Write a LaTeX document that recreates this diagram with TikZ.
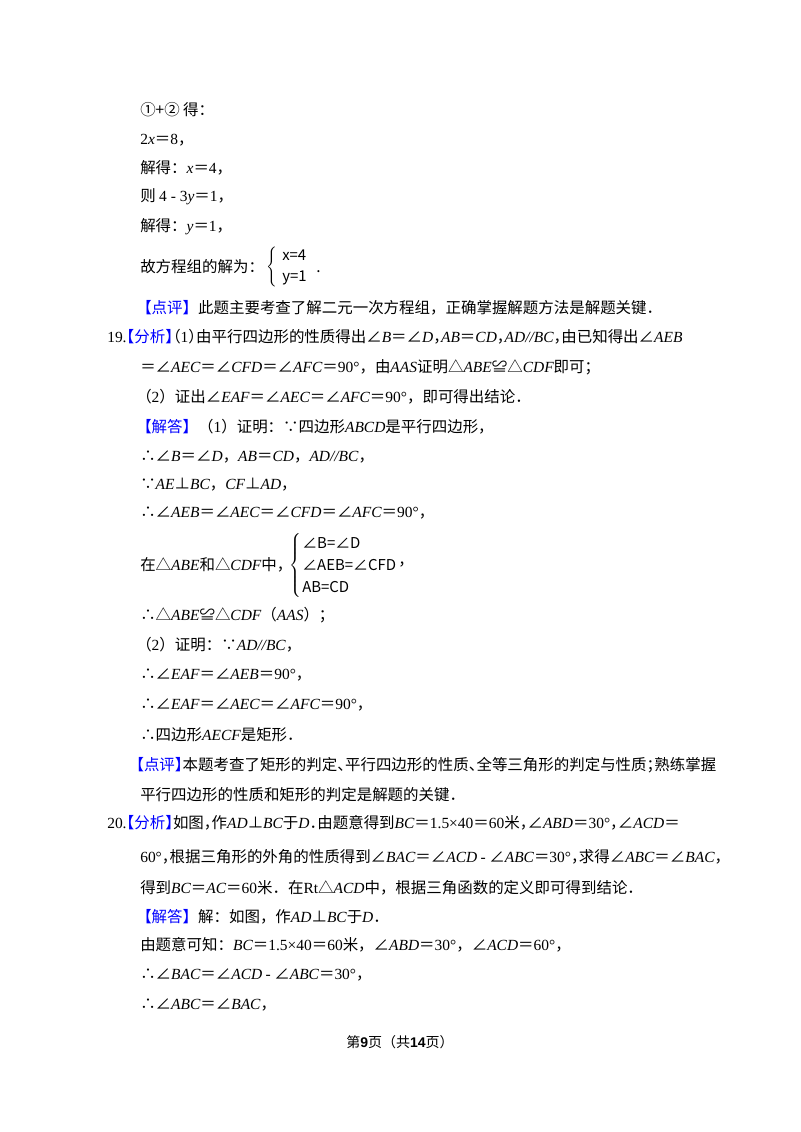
\documentclass[tikz,border=0pt]{standalone}
\usepackage{fontspec}
\setmainfont{Noto Sans CJK SC}
\newfontfamily\tm{Liberation Serif}
\newfontfamily\hv{Liberation Sans}
\newcommand\I[1]{{\tm\itshape #1}}
\newcommand\R[1]{{\tm #1}}
\newcommand\B[1]{{\color{blue}#1}}
\newcommand\hw{\addfontfeature{RawFeature=+halt}}
\newcommand\brc[1]{$\left\{\vcenter{\vbox to #1{}}\right.$}
\begin{document}
\begin{tikzpicture}[x=0.75pt,y=-0.75pt,
  tx/.style={anchor=west,inner sep=0pt,font=\fontsize{11.6}{14}\selectfont},
  sm/.style={anchor=west,inner sep=0pt,font=\fontsize{11.2}{13}\selectfont}]
\fill[white] (0,0) rectangle (800,1132);
\useasboundingbox (0,0) rectangle (800,1132);
\node[tx] (l1) at (140,110) {①+② 得：};
\node[tx] (l2) at (140,140) {\R{2}\I{x}＝\R{8}，};
\node[tx] (l3) at (140,168) {解得：\I{x}＝\R{4}，};
\node[tx] (l4) at (140,197) {则 \R{4 - 3}\I{y}＝\R{1}，};
\node[tx] (l5) at (140,227) {解得：\I{y}＝\R{1}，};
\node[tx] (l6) at (140,267) {故方程组的解为：};
\node[tx] (b1) at (266,267) {\brc{31pt}};
\node[sm] (s1a) at (282,255) {x=4};
\node[sm] (s1b) at (282,278) {y=1};
\node[tx] (s1c) at (316,272) {.};
\node[tx] (l7) at (136,308) {\B{【点评】}此题主要考查了解二元一次方程组，正确掌握解题方法是解题关键．};
\node[tx] (l8) at (107,337) {\hw\R{19.}\B{【分析】}（\R{1}）由平行四边形的性质得出∠\I{B}＝∠\I{D}，\I{AB}＝\I{CD}，\I{AD}\I{//}\I{BC}，由已知得出∠\I{AEB}};
\node[tx] (l9) at (140,367) {＝∠\I{AEC}＝∠\I{CFD}＝∠\I{AFC}＝\R{90°}，由\I{AAS}证明△\I{ABE}≌△\I{CDF}即可；};
\node[tx] (l10) at (136,397) {（\R{2}）证出∠\I{EAF}＝∠\I{AEC}＝∠\I{AFC}＝\R{90°}，即可得出结论．};
\node[tx] (l11) at (136,427) {\B{【解答】}（\R{1}）证明：∵四边形\I{ABCD}是平行四边形，};
\node[tx] (l12) at (140,457) {∴∠\I{B}＝∠\I{D}，\I{AB}＝\I{CD}，\I{AD}\I{//}\I{BC}，};
\node[tx] (l13) at (140,485) {∵\I{AE}⊥\I{BC}，\I{CF}⊥\I{AD}，};
\node[tx] (l14) at (140,513) {∴∠\I{AEB}＝∠\I{AEC}＝∠\I{CFD}＝∠\I{AFC}＝\R{90°}，};
\node[tx] (l15) at (140,565) {在△\I{ABE}和△\I{CDF}中，};
\node[tx] (b2) at (289,565) {\brc{48pt}};
\node[sm] (s2a) at (302,543) {∠B=∠D};
\node[sm] (s2b) at (302,565) {∠AEB=∠CFD};
\node[sm] (s2c) at (302,587) {AB=CD};
\node[tx] (s2d) at (398,565) {，};
\node[tx] (l16) at (140,615) {∴△\I{ABE}≌△\I{CDF}（\I{AAS}）；};
\node[tx] (l17) at (136,645) {（\R{2}）证明：∵\I{AD}\I{//}\I{BC}，};
\node[tx] (l18) at (140,675) {∴∠\I{EAF}＝∠\I{AEB}＝\R{90°}，};
\node[tx] (l19) at (140,705) {∴∠\I{EAF}＝∠\I{AEC}＝∠\I{AFC}＝\R{90°}，};
\node[tx] (l20) at (140,735) {∴四边形\I{AECF}是矩形．};
\node[tx] (l21) at (136,765) {\hw\B{【点评】}本题考查了矩形的判定、平行四边形的性质、全等三角形的判定与性质；熟练掌握};
\node[tx] (l22) at (140,795) {平行四边形的性质和矩形的判定是解题的关键．};
\node[tx] (l23) at (107,823) {\hw\R{20.}\B{【分析】}如图，作\I{AD}⊥\I{BC}于\I{D}．由题意得到\I{BC}＝\R{1.5×40}＝\R{60}米，∠\I{ABD}＝\R{30°}，∠\I{ACD}＝};
\node[tx] (l24) at (140,857) {\hw\R{60°}，根据三角形的外角的性质得到∠\I{BAC}＝∠\I{ACD} \R{-} ∠\I{ABC}＝\R{30°}，求得∠\I{ABC}＝∠\I{BAC}，};
\node[tx] (l25) at (140,888) {得到\I{BC}＝\I{AC}＝\R{60}米．在\R{Rt}△\I{ACD}中，根据三角函数的定义即可得到结论．};
\node[tx] (l26) at (136,917) {\B{【解答】}解：如图，作\I{AD}⊥\I{BC}于\I{D}．};
\node[tx] (l27) at (140,945) {由题意可知：\I{BC}＝\R{1.5×40}＝\R{60}米，∠\I{ABD}＝\R{30°}，∠\I{ACD}＝\R{60°}，};
\node[tx] (l28) at (140,975) {∴∠\I{BAC}＝∠\I{ACD} \R{-} ∠\I{ABC}＝\R{30°}，};
\node[tx] (l29) at (140,1005) {∴∠\I{ABC}＝∠\I{BAC}，};
\node[anchor=center,inner sep=0pt,font=\fontsize{10.5}{12}\selectfont] (ft) at (400,1042) {第{\hv\bfseries 9}页（共{\hv\bfseries 14}页）};
\end{tikzpicture}
\end{document}
